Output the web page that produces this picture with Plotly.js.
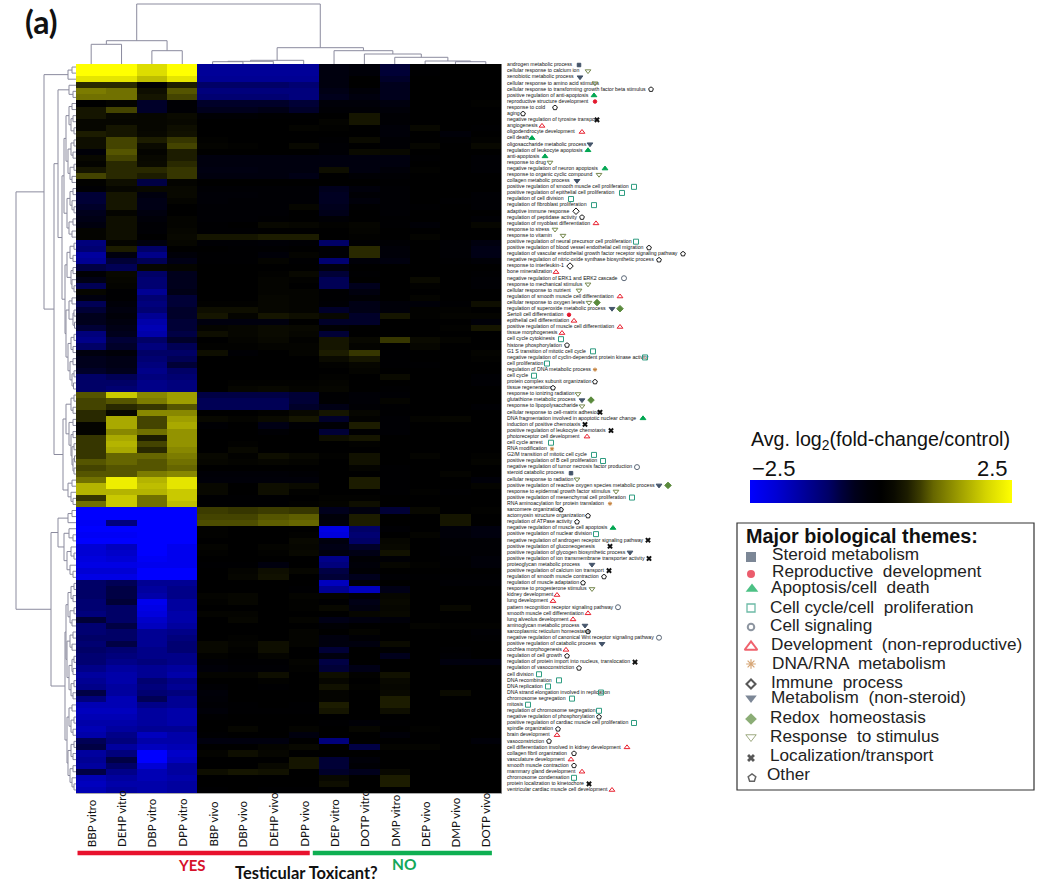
<!DOCTYPE html>
<html><head><meta charset="utf-8">
<script src="https://cdn.plot.ly/plotly-3.0.1.min.js"></script>
<style>html,body{margin:0;padding:0;background:#fff}</style></head>
<body><div id="chart" style="width:1050px;height:882px"></div>
<script>
const colNames=["BBP vitro","DEHP vitro","DBP vitro","DPP vitro","BBP vivo","DBP vivo","DEHP vivo","DPP vivo","DEP vitro","DOTP vitro","DMP vitro","DEP vivo","DMP vivo","DOTP vivo"];
const rowLabels=["androgen metabolic process","cellular response to calcium ion","xenobiotic metabolic process","cellular response to amino acid stimulus","cellular response to transforming growth factor beta stimulus","positive regulation of anti-apoptosis","reproductive structure development","response to cold","aging","negative regulation of tyrosine transport","angiogenesis","oligodendrocyte development","cell death","oligosaccharide metabolic process","regulation of leukocyte apoptosis","anti-apoptosis","response to drug","negative regulation of neuron apoptosis","response to organic cyclic compound","collagen metabolic process","positive regulation of smooth muscle cell proliferation","positive regulation of epithelial cell proliferation","regulation of cell division","regulation of fibroblast proliferation","adaptive immune response","regulation of peptidase activity","regulation of myoblast differentiation","response to stress","response to vitamin","positive regulation of neural precursor cell proliferation","positive regulation of blood vessel endothelial cell migration","regulation of vascular endothelial growth factor receptor signaling pathway","negative regulation of nitric-oxide synthase biosynthetic process","response to interleukin-1","bone mineralization","negative regulation of ERK1 and ERK2 cascade","response to mechanical stimulus","cellular response to nutrient","regulation of smooth muscle cell differentiation","cellular response to oxygen levels","regulation of superoxide metabolic process","Sertoli cell differentiation","epithelial cell differentiation","positive regulation of muscle cell differentiation","tissue morphogenesis","cell cycle cytokinesis","histone phosphorylation","G1 S transition of mitotic cell cycle","negative regulation of cyclin-dependent protein kinase activity","cell proliferation","regulation of DNA metabolic process","cell cycle","protein complex subunit organization","tissue regeneration","response to ionizing radiation","glutathione metabolic process","response to lipopolysaccharide","cellular response to cell-matrix adhesion","DNA fragmentation involved in apoptotic nuclear change","induction of positive chemotaxis","positive regulation of leukocyte chemotaxis","photoreceptor cell development","cell cycle arrest","RNA modification","G2/M transition of mitotic cell cycle","positive regulation of B cell proliferation","negative regulation of tumor necrosis factor production","steroid catabolic process","cellular response to radiation","positive regulation of reactive oxygen species metabolic process","response to epidermal growth factor stimulus","positive regulation of mesenchymal cell proliferation","RNA aminoacylation for protein translation","sarcomere organization","actomyosin structure organization","regulation of ATPase activity","negative regulation of muscle cell apoptosis","positive regulation of nuclear division","negative regulation of androgen receptor signaling pathway","positive regulation of gluconeogenesis","positive regulation of glycogen biosynthetic process","positive regulation of ion transmembrane transporter activity","proteoglycan metabolic process","positive regulation of calcium ion transport","regulation of smooth muscle contraction","regulation of muscle adaptation","response to progesterone stimulus","kidney development","lung development","pattern recognition receptor signaling pathway","smooth muscle cell differentiation","lung alveolus development","aminoglycan metabolic process","sarcoplasmic reticulum homeostasis","negative regulation of canonical Wnt receptor signaling pathway","positive regulation of catabolic process","cochlea morphogenesis","regulation of cell growth","regulation of protein import into nucleus, translocation","regulation of vasoconstriction","cell division","DNA recombination","DNA replication","DNA strand elongation involved in replication","chromosome segregation","mitosis","regulation of chromosome segregation","negative regulation of phosphorylation","positive regulation of cardiac muscle cell proliferation","spindle organization","brain development","vasoconstriction","cell differentiation involved in kidney development","collagen fibril organization","vasculature development","smooth muscle contraction","mammary gland development","chromosome condensation","protein localization to kinetochore","ventricular cardiac muscle cell development"];
const rowThemes=["S","T","M","T","O","A","R","O","O","L","D","D","A","M","A","A","T","A","T","M","C","C","C","C","I","O","D","T","T","C","O","O","O","I","D","G","T","T","D","T","M","R","D","D","D","C","O","C","C","C","N","C","O","O","T","M","T","L","A","L","L","D","C","N","C","C","G","S","T","M","T","C","N","O","O","O","A","C","L","L","M","L","M","L","O","O","T","D","D","G","D","D","M","O","G","M","D","O","L","O","C","C","C","C","C","C","C","O","C","O","D","O","D","O","D","O","D","C","L","D"];
const themeMarkerX=[579,588,580,595,651,594,595,555,523,597,542,582,532,590,588,545,550,605,599,577,634,622,571,594,576,582,596,555,563,636,649,683,659,570,556,624,588,579,620,589,612,569,574,620,562,561,567,593,645,547,595,534,595,553,578,582,582,600,643,585,611,587,551,552,594,603,637,571,577,659,616,632,610,561,588,577,613,596,648,610,630,649,592,609,604,583,592,557,553,618,588,573,585,588,659,602,566,567,635,579,539,559,548,601,572,528,599,599,634,558,557,549,627,574,571,574,582,574,589,612];
const redoxRows=[40,41,56,70];
const redoxMarkerX=[597,620,591,668];
const themeCodes=["S","R","A","C","G","D","N","I","M","H","T","L","O"];
const themeNames=["Steroid metabolism","Reproductive  development","Apoptosis/cell  death","Cell cycle/cell  proliferation","Cell signaling","Development  (non-reproductive)","DNA/RNA  metabolism","Immune  process","Metabolism  (non-steroid)","Redox  homeostasis","Response  to stimulus","Localization/transport","Other"];
const themeSymbols=["square","circle","triangle-up","square-open","circle-open","triangle-up-open","asterisk-open","diamond-open","triangle-down","diamond","triangle-down-open","x","pentagon-open"];
const themeColors=["#44546a","#e3172d","#00a651","#2e9c80","#5c6878","#e8202f","#c4803c","#111111","#44546a","#5a8a3c","#76884e","#111111","#222222"];
const legendMarkerX=[751,751,752,751,751,751,751,751,751,751,751,751,752];
const legendMarkerY=[557,574,589,608,627,647,664,684,698,719,737,758,778];
const legendTextX=[772,772,771,770,770,771,772,771,771,770,770,770,767];
const legendTextY=[556,573,589,609,627,646,665,684,699,719,738,757,776];
const heatValues=[
[2.5,2.5,2.1,2.5,-1.45,-1.45,-1.45,-1.45,-.3,-.2,-.7,-.05,.05,.05],
[2.5,2.5,2.1,2.5,-1.45,-1.45,-1.45,-1.45,-.3,-.2,-.7,-.05,0,0],
[2.2,2.2,1.8,2.2,-1.4,-1.4,-1.4,-1.4,-.3,0,-.6,0,0,0],
[.6,.6,-.1,.5,-1,-1,-1,-1.1,-.3,0,-.5,0,0,0],
[1.2,1.1,.3,.9,-1.2,-1.2,-1.2,-1.2,-.4,-.2,-.5,0,0,0],
[1.1,1.1,.4,.8,-1.1,-1.1,-1.1,-1.2,-.5,-.3,-.5,0,0,0],
[0,.1,-.6,-.1,-.6,-.6,-.6,-.7,-.2,-.2,-.3,0,0,.05],
[.4,.8,-.6,-.1,-.5,-.5,-.4,-.6,-.1,-.1,-.2,0,0,0],
[.4,.2,.15,.25,-.1,-.1,-.05,-.05,0,.4,-.1,0,0,0],
[.15,.15,.15,.2,0,0,0,0,.1,.4,-.1,0,0,0],
[.15,.4,.15,.3,0,0,0,.1,.05,0,-.2,.2,0,-.05],
[.5,.4,.2,.35,0,0,0,0,0,0,-.2,0,-.2,0],
[.3,.8,.5,.7,.05,0,0,0,-.05,.25,-.1,0,-.05,.05],
[.3,.8,.25,.8,.1,.05,0,.2,-.1,0,-.1,.15,0,.2],
[-.2,.9,.1,.5,0,0,0,0,-.1,.25,.2,0,0,0],
[.2,.8,.2,.5,-.3,-.3,-.3,-.3,-.3,-.3,-.3,-.05,0,-.1],
[.1,.6,.25,.6,-.3,-.3,-.3,-.3,-.3,-.3,-.3,0,0,-.1],
[.4,.6,.6,.7,-.35,-.35,-.3,-.3,.3,-.3,-.2,.05,0,-.1],
[.8,.6,.5,.7,-.3,-.3,-.3,-.4,0,-.1,-.1,0,0,0],
[.05,.3,-.8,.1,0,0,0,0,0,0,-.05,0,0,0],
[-.1,.15,.2,.2,-.1,-.1,-.1,-.1,-.5,-.25,-.1,0,0,0],
[-.7,.4,-.3,.2,-.15,-.15,-.1,-.1,-.55,-.1,-.1,0,0,-.1],
[-.7,.4,-.4,.1,-.15,-.1,-.1,-.1,-.55,-.25,-.1,0,-.05,-.1],
[-.6,.4,-.4,0,-.1,-.1,-.1,.15,-.5,-.05,-.1,-.05,0,-.1],
[-.5,.1,-.3,0,-.1,-.1,-.1,0,-.45,0,-.1,0,0,0],
[-.4,.3,-.2,.1,-.1,-.1,-.05,0,-.1,0,-.05,0,0,-.1],
[-.3,.3,-.1,.1,-.05,0,.2,.15,.05,.12,-.05,-.15,0,.15],
[.1,.3,-.1,.15,-.05,-.05,0,0,0,.1,0,0,0,0],
[.1,.3,0,.2,.4,.4,.5,.5,0,.05,0,.1,0,0],
[-1.2,.1,-.3,.15,-.1,-.1,-.15,-.1,-1,-.05,-.1,0,-.1,-.3],
[-1.1,.5,-1,0,0,-.05,-.05,0,-.1,.6,-.2,0,-.1,-.4],
[-1.5,-.3,-1.3,-.2,-.05,-.05,-.2,.1,-.1,.6,-.2,0,-.1,-.4],
[-1.4,-.7,-.9,-.4,-.05,-.05,.1,-.05,-1.1,-.2,-.3,0,-.05,-.15],
[-.8,-.9,.15,.1,0,0,0,0,-.3,0,0,0,0,0],
[-.1,.2,-1,-.5,0,0,.05,.2,-.7,-.05,0,0,0,-.05],
[-.4,.15,-1.1,-.5,0,0,.1,.05,-.9,0,0,.25,0,-.1],
[-.9,.1,-1.1,-.5,0,0,.1,0,-.9,-.5,0,.05,0,-.1],
[.15,-.05,-1.4,-.4,0,0,.1,.1,-.05,-.3,0,0,0,0],
[-.3,-.05,-1.1,-.7,0,0,.15,.1,-.05,-.1,0,.1,0,0],
[-.9,-.2,-1.2,-.7,.05,.05,.15,.1,-.1,-.4,-.2,-.2,-.05,.3],
[-.7,-.3,-1.1,-.6,.3,.3,.15,.1,-.6,-.4,-.2,.05,.05,0],
[-.5,-.2,-1.4,-.6,.4,.1,.4,.3,.2,-.6,.4,.05,.1,.1],
[-.5,-.3,-1.6,-.7,-.3,-.3,-.3,0,-.6,-.6,0,0,0,-.2],
[-.7,-.4,-1.7,-.7,.1,.15,.25,.2,-.1,0,0,0,.05,.4],
[-1.2,-.5,-1.6,-.8,.3,.15,.25,.15,-.7,0,0,0,0,0],
[-1.3,-.7,-1,-.6,0,.1,.2,.05,.4,.2,.7,.25,.1,0],
[-1,-.6,-1.2,-.9,.05,.05,.1,.1,.4,.1,0,.15,0,0],
[-.3,-.2,-1,-1,.3,-.1,0,.1,.5,.7,-.05,0,0,.1],
[-.5,-.4,-1.1,-.9,0,0,0,0,.25,.4,-.05,0,0,.05],
[-.5,-.4,-1.2,-.7,0,0,0,0,.05,.15,-.05,-.05,0,0],
[-.6,-.5,-1.3,-1,0,0,0,0,0,.1,0,0,0,0],
[-1,-.9,-1.2,-1.1,0,0,0,0,.05,0,.25,0,0,-.1],
[-1,-1,-1.3,-1.2,0,.05,.05,.05,.1,0,0,0,0,-.1],
[-1,-1.1,-1.3,-1.2,0,.15,.2,.1,.15,0,-.05,0,0,0],
[.9,1.9,1.3,1.5,-.8,-.8,-.8,-.7,-.05,-.15,-.1,0,0,0],
[.8,.9,1.2,1.5,-.9,-.9,-.9,-.7,-.05,-.15,.1,0,0,0],
[.8,.6,.7,.9,-.9,-.9,-.9,-.6,-.4,-.1,-.05,0,0,-.1],
[.6,.2,1.3,1.3,0,0,.05,.2,.4,.15,-.05,0,0,0],
[.6,1.6,.8,1.5,.2,.1,.25,.4,-.6,.05,-.1,.1,.15,0],
[.1,1.6,.8,1.6,-.1,0,-.4,-.1,-.1,.5,-.1,0,0,0],
[.1,1.3,1.1,1.4,0,0,-.1,0,-.7,-.05,-.1,0,0,0],
[.7,1.6,.5,1.4,0,0,0,0,.3,.4,0,0,0,0],
[.7,1.7,.8,1.4,0,.05,0,0,0,.05,0,0,0,0],
[.7,1.6,.6,1.3,0,.2,0,0,0,0,0,0,0,0],
[.7,1,1,1.2,.2,.05,.3,.2,.05,.35,0,.1,0,.05],
[.9,1,.9,1.1,.15,.1,.15,.1,0,.35,0,0,0,.1],
[.8,.9,.9,1,0,0,0,0,0,.1,-.05,0,0,0],
[.9,.9,1.2,1.3,-.15,-.15,-.15,-.1,0,0,-.05,0,.1,0],
[1.1,2.3,1.7,2.2,-.2,-.2,-.2,-.2,0,.5,-.05,0,0,-.2],
[1.7,2.3,1.8,2.2,.2,0,.3,.25,0,.5,-.05,0,0,.1],
[1.7,1.7,1.7,1.9,.2,0,.3,.05,0,0,-.05,.05,-.05,0],
[.7,1.9,1.1,1.9,-.05,-.05,-.05,0,.05,.05,0,0,0,0],
[1.1,1.9,1.1,1.8,-.05,-.05,-.05,.05,.1,.3,0,0,0,0],
[-2.5,-2.5,-2.5,-2.5,.75,.7,.75,.7,-.5,-.3,-.7,.2,0,.05],
[-2.5,-2.5,-2.5,-2.5,.8,.8,.9,.95,-.2,.5,0,0,.4,0],
[-2.4,-1.2,-2.5,-2.5,.85,.85,.95,1,-.3,.5,0,0,.4,0],
[-2.5,-2.5,-2.5,-2.5,.05,0,0,0,-2.2,-1,-.1,0,-.2,-.3],
[-2.4,-2.4,-2.5,-2.5,.05,0,0,.05,-2.1,-1.1,0,.1,-.2,-.3],
[-2.5,-2.5,-2.5,-2.5,0,0,0,.2,-.3,-1,.15,0,-.1,-.1],
[-2,-1.8,-2.5,-2.3,.1,0,.1,.15,-.4,-.6,.2,0,-.1,-.1],
[-2,-1.9,-2.5,-2.3,.05,0,.05,.2,-.3,-.4,.35,0,-.1,-.1],
[-2.1,-2,-2.4,-2.3,0,0,0,0,-1.3,-.1,-.1,0,-.05,-.2],
[-2.2,-2.2,-2.3,-2.3,-.05,-.05,-.3,0,-1.2,-.2,.15,.05,-.05,-.2],
[-2,-2,-2.5,-2.5,0,.1,.3,.15,-.8,-.1,0,0,0,0],
[-2.2,-2.2,-2.5,-2.5,0,.15,.35,0,-.7,-.5,-.1,-.05,-.05,-.05],
[-1,-.9,-1.4,-1.4,0,0,0,0,-1.8,-.2,0,0,-.1,-.1],
[-1,-.8,-1.5,-1.3,0,0,0,-.05,-1.4,-1.8,-.4,0,0,0],
[-1,-.8,-1.6,-1.3,.1,.15,0,.1,.1,-.2,.15,0,0,0],
[-1.1,-.7,-2.3,-1.5,.05,.15,0,.05,-.05,-.4,.2,0,0,0],
[-1.1,-1,-2.2,-1.5,0,0,0,.05,.2,-.3,.15,0,.2,0],
[-1.2,-1,-2.1,-1.6,.1,.1,0,0,0,.15,.2,0,0,0],
[-.7,-1,-1.9,-1.6,0,.15,0,.1,-.4,-.3,-.2,0,0,0],
[-1.1,-.8,-1.8,-1.5,0,0,0,0,-.1,0,0,.1,.05,.05],
[-1.1,-1,-1.4,-1.3,0,0,0,.1,0,.1,0,0,0,-.1],
[-1,-1,-1.4,-1.2,0,.05,0,.1,-.3,-.1,0,0,0,-.05],
[-1.1,-.8,-1.4,-1.1,.2,.1,.3,.1,-.3,-.3,.25,0,0,0],
[-1,-1.1,-1.3,-1.1,.2,.05,.3,0,-.7,0,-.05,0,-.05,0],
[-1.1,-1.2,-1.3,-1.3,.05,0,.1,0,-.3,0,-.5,0,-.1,0],
[-1.1,-1.3,-1.2,-1.3,-.1,-.05,-.05,.1,-.8,0,0,0,-.3,-.3],
[-1.3,-1.5,-1.4,-1.5,-.2,-.1,-.1,.05,-.7,-.4,0,0,0,0],
[-1.5,-1.6,-1.4,-1.6,.1,.1,.3,0,.3,.05,.35,0,0,0],
[-1.4,-1.6,-1.1,-1.3,0,0,.05,0,.15,0,.2,0,0,0],
[-1.3,-1.5,-1.2,-1.4,-.1,0,-.05,0,.35,.05,.15,0,0,0],
[-.8,-1.5,-1.1,-1.2,-.2,0,0,0,.1,0,.2,0,.25,0],
[-1.2,-1.7,-.9,-1.4,-.15,0,0,0,.1,0,.5,0,0,0],
[-1.7,-1.7,-1.3,-1.4,-.1,-.05,0,-.05,.5,0,.5,0,0,0],
[-1.8,-1.8,-1.5,-1.6,-.2,-.05,-.05,-.05,.4,0,.3,0,0,0],
[-1.7,-1.7,-1.5,-1.6,-.05,0,0,0,0,0,0,0,0,0],
[-1.6,-1.6,-1.5,-1.6,0,0,0,0,-.05,-.15,-.05,0,0,0],
[-1.7,-1.5,-1.4,-1.4,0,.15,0,.1,0,.15,0,.05,0,0],
[-1.6,-1.3,-1.8,-1.6,-.05,0,0,-.3,0,0,-.2,0,0,0],
[-.9,-1.2,-1.6,-1.6,-.3,-.3,-.3,0,-1.2,0,0,0,0,-.2],
[-.8,-1.5,-1.8,-1.7,0,0,.1,.2,0,-.8,.1,.1,0,0],
[-1.5,-1.2,-2.5,-1.9,.1,.3,.15,0,0,0,0,0,0,0],
[-1.4,-.8,-2.5,-1.8,0,0,0,.4,-.7,-.2,0,0,0,0],
[-1.5,-1,-2,-1.5,0,0,.2,.4,-.7,-.1,0,0,0,0],
[-.8,-1.3,-1.7,-1.5,.3,.4,.35,0,-.6,-.5,.2,0,0,0],
[-1.7,-1.5,-1.7,-1.6,0,0,0,0,.2,0,.5,0,0,0],
[-1.8,-1.6,-1.6,-1.5,0,0,0,0,.3,0,.5,0,0,0],
[-1.7,-1.5,-1.6,-1.5,-.05,0,-.05,-.05,0,0,0,0,0,0]];
// dendrograms as nested [height, childA, childB]; leaves are column index / row number
const colTree=[60,[23.3,[19.7,0,1],[13.3,2,3]],[16.3,[3.7,[2.7,[2.3,4,5],6],7],[13.3,8,[10,9,[6.7,10,[3,11,[2.3,12,13]]]]]]];
const rowsA=[8,[4,1,2],3];
const rows4to6=[7,4,[3,5,6]];
const rows7to20=[10,[7,[4,7,8],[5,[3,9,10],[2,11,12]]],[8,[5,[2,13,14],[3,15,16]],[6,[2,17,18],[4,19,20]]]];
const rows21to29=[9,[6,[3,21,22],[4,23,[2,24,25]]],[7,[3,26,27],[4,28,29]]];
const rows30to38=[9,[6,[2,30,31],[3,32,33]],[5,[3,34,35],[4,36,[2,37,38]]]];
const rows39to54=[10,[7,[4,39,40],[3,[2,41,42],[1.5,43,44]]],[8,[5,[2,45,46],[3,47,48]],[6,[3,49,50],[4,[2,51,52],[2.5,53,54]]]]];
const rows55to73=[13,[10,[5,[2,55,56],[3,57,58]],[7,[3,59,60],[5,[3,61,62],[4,[2,63,64],[3,[1.5,65,66],[2,67,68]]]]]],[8,[4,69,70],[5,71,[3,72,73]]]];
const rows74to85=[18,[8,[4,74,75],76],[12,[7,77,[3,78,79]],[9,[5,80,[2,81,82]],[6,83,[3,84,85]]]]];
const rows86to105=[10,[8,[5,[2,86,87],[3,88,89]],[6,[2,90,91],[4,92,93]]],[9,[6,[3,94,95],[4,96,97]],[7,[4,[2,98,99],[3,100,101]],[5,[2,102,103],[3,104,105]]]]];
const rows106to120=[9,[7,[4,106,107],[5,[2,108,109],[3,110,111]]],[8,[5,[2,112,113],[3,114,115]],[6,[3,116,117],[4,118,[2,119,120]]]]];
const rowTree=[60,[32,rowsA,[22,[18,rows4to6,[14,[12,rows7to20,rows21to29],[11,rows30to38,rows39to54]]],rows55to73]],[25,rows74to85,[11,rows86to105,rows106to120]]];

function walk(t,a,b){
  if(!Array.isArray(t)) return {p:t,h:0};
  const L=walk(t[1],a,b),R=walk(t[2],a,b),h=t[0];
  a.push(L.p,L.p,R.p,R.p,null); b.push(L.h,h,h,R.h,null);
  return {p:(L.p+R.p)/2,h:h};
}
const cLeaf=[],cH=[];walk(colTree,cLeaf,cH);
const rLeaf=[],rH=[];walk(rowTree,rLeaf,rH);

const FW=1050,FH=882;
const hL=76,hR=501,hT=64,hB=793;
const pxY=y=>1-y/FH,pxX=x=>x/FW;
const rowIdx=rowLabels.map((_,i)=>i+1);
const cols=colNames.map((_,i)=>i);
const DEND="#8b8b9e";
const scale=[[0,"#0000ff"],[.1,"rgb(0,0,212)"],[.2,"rgb(0,0,158)"],[.3,"rgb(0,0,102)"],[.35,"rgb(0,0,60)"],[.4,"rgb(0,0,28)"],[.45,"rgb(0,0,10)"],[.5,"#000000"],[.55,"rgb(10,10,0)"],[.6,"rgb(28,28,0)"],[.65,"rgb(60,60,0)"],[.7,"rgb(102,102,0)"],[.8,"rgb(158,158,0)"],[.9,"rgb(212,212,0)"],[1,"#ffff00"]];
const traces=[
 {type:"heatmap",x:cols,y:rowIdx,z:heatValues,zmin:-2.5,zmax:2.5,xaxis:"x",yaxis:"y",
  colorscale:scale,hoverinfo:"skip",
  colorbar:{orientation:"h",x:pxX(750),xanchor:"left",y:pxY(480),yanchor:"top",len:262,lenmode:"pixels",thickness:23,thicknessmode:"pixels",xpad:0,ypad:0,outlinewidth:0,showticklabels:false,ticks:""}},
 {type:"scatter",mode:"lines",x:cLeaf,y:cH,xaxis:"x",yaxis:"y4",line:{color:DEND,width:1},hoverinfo:"skip"},
 {type:"scatter",mode:"lines",x:rH,y:rLeaf,xaxis:"x3",yaxis:"y",line:{color:DEND,width:1},hoverinfo:"skip"},
 {type:"scatter",mode:"text",x:rowIdx.map(()=>507),y:rowIdx,text:rowLabels,textposition:"middle right",xaxis:"x2",yaxis:"y3",
  textfont:{family:"Liberation Sans",size:5.2,color:"#111"},hoverinfo:"skip"}
];
themeCodes.forEach((code,k)=>{
  const xs=[],ys=[];
  rowThemes.forEach((c,i)=>{if(c===code){xs.push(themeMarkerX[i]);ys.push(i+1);}});
  if(code==="H") redoxRows.forEach((r,i)=>{xs.push(redoxMarkerX[i]);ys.push(r);});
  traces.push({type:"scatter",mode:"markers",x:xs,y:ys,xaxis:"x2",yaxis:"y3",hoverinfo:"skip",
    marker:{symbol:themeSymbols[k],color:themeColors[k],size:code==="S"||code==="R"||code==="N"?3.5:5,line:{color:themeColors[k],width:code==="L"?0:1}}});
});
traces.push({type:"scatter",mode:"markers",x:legendMarkerX,y:legendMarkerY,xaxis:"x2",yaxis:"y2",hoverinfo:"skip",
  marker:{symbol:themeSymbols,color:themeColors,size:[10,8,11,8,6.5,11,8,7,10,9,9,7,8],line:{color:themeColors,width:[0,0,0,1.3,2,2,1.2,2,0,0,1,0,1.5]}}});
traces.push({type:"scatter",mode:"text",x:legendTextX,y:legendTextY,text:themeNames,textposition:"middle right",xaxis:"x2",yaxis:"y2",hoverinfo:"skip",
  textfont:{family:"Liberation Sans",size:17.2,color:"#222"}});

const hid={visible:false,fixedrange:true};
const ann=[
 {text:"(a)",xref:"paper",yref:"paper",x:pxX(23),y:pxY(22),xanchor:"left",yanchor:"middle",showarrow:false,font:{family:"Lato",size:32,color:"#111",weight:700}},
 {text:"Avg. log<sub>2</sub>(fold-change/control)",xref:"paper",yref:"paper",x:pxX(749),y:pxY(440),xanchor:"left",yanchor:"middle",showarrow:false,font:{family:"Liberation Sans",size:19.7,color:"#111"}},
 {text:"\u22122.5",xref:"paper",yref:"paper",x:pxX(750),y:pxY(468),xanchor:"left",yanchor:"middle",showarrow:false,font:{family:"Liberation Sans",size:22,color:"#111"}},
 {text:"2.5",xref:"paper",yref:"paper",x:pxX(1010),y:pxY(468),xanchor:"right",yanchor:"middle",showarrow:false,font:{family:"Liberation Sans",size:22,color:"#111"}},
 {text:"<b>Major biological themes:</b>",xref:"paper",yref:"paper",x:pxX(744),y:pxY(536),xanchor:"left",yanchor:"middle",showarrow:false,font:{family:"Liberation Sans",size:19.8,color:"#111"}},
 {text:"<b>YES</b>",xref:"paper",yref:"paper",x:pxX(192),y:pxY(865),xanchor:"center",yanchor:"middle",showarrow:false,font:{family:"Lato",size:15,color:"#d6122a"}},
 {text:"<b>NO</b>",xref:"paper",yref:"paper",x:pxX(404),y:pxY(864),xanchor:"center",yanchor:"middle",showarrow:false,font:{family:"Lato",size:15.5,color:"#13a85a"}},
 {text:"<b>Testicular Toxicant?</b>",xref:"paper",yref:"paper",x:pxX(306),y:pxY(873),xanchor:"center",yanchor:"middle",showarrow:false,font:{family:"Lato",size:16.5,color:"#111"}}
];
colNames.forEach((n,i)=>ann.push({text:n,xref:"x",yref:"paper",x:i,y:pxY(849),xanchor:"center",yanchor:"bottom",textangle:-90,showarrow:false,font:{family:"Lato",size:11.5,color:"#111"}}));
const layout={width:FW,height:FH,margin:{l:0,r:0,t:0,b:0},paper_bgcolor:"#fff",plot_bgcolor:"rgba(0,0,0,0)",showlegend:false,
 xaxis:{domain:[pxX(hL),pxX(hR)],range:[-.5,13.5],showticklabels:false,ticks:"",showgrid:false,zeroline:false,showline:true,linecolor:"#aaaaaa",linewidth:1,anchor:"y",fixedrange:true},
 yaxis:{domain:[pxY(hB),pxY(hT)],range:[120.5,.5],showticklabels:false,ticks:"",showgrid:false,zeroline:false,showline:true,linecolor:"#777777",linewidth:1,side:"right",anchor:"x",fixedrange:true},
 xaxis2:{...hid,domain:[0,1],range:[0,FW],anchor:"y2"},
 yaxis2:{...hid,domain:[0,1],range:[FH,0],anchor:"x2"},
 xaxis3:{...hid,domain:[0,pxX(hL)],range:[76,0],anchor:"y"},
 yaxis3:{...hid,domain:[pxY(793.05),pxY(61.95)],range:[120.5,.5],anchor:"x2"},
 yaxis4:{...hid,domain:[pxY(hT),1],range:[0,64],anchor:"x"},
 shapes:[
  {type:"rect",xref:"paper",yref:"paper",x0:pxX(737),x1:pxX(1034),y0:pxY(790),y1:pxY(523),line:{color:"#333",width:1.2},fillcolor:"rgba(0,0,0,0)"},
  {type:"line",xref:"x",yref:"paper",x0:-.45,x1:7.2,y0:pxY(853),y1:pxY(853),line:{color:"#e8112d",width:4.5}},
  {type:"line",xref:"x",yref:"paper",x0:7.3,x1:13.2,y0:pxY(853),y1:pxY(853),line:{color:"#0eaf52",width:4.5}}
 ],
 annotations:ann};
Plotly.newPlot("chart",traces,layout,{displayModeBar:false,staticPlot:true});
</script></body></html>
